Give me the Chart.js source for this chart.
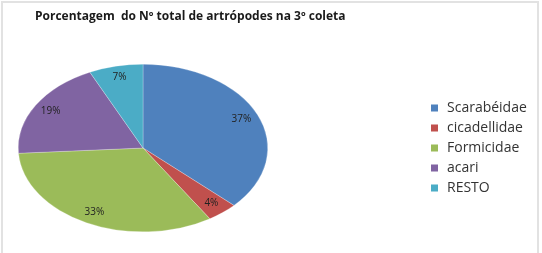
<!DOCTYPE html>
<html>
<head>
<meta charset="utf-8">
<script src="https://cdn.jsdelivr.net/npm/chart.js@4"></script>
<style>
    html, body { margin: 0; padding: 0; background: #fff; }
    #wrap { position: relative; width: 542px; height: 253px; }
    #frame { position: absolute; left: 1px; top: 1px; width: 538px; height: 260px; border: 2px solid #e2e2e2; border-bottom: none; box-sizing: border-box; }
    canvas { position: absolute; left: 0; top: 0; }
</style>
</head>
<body>
<div id="wrap">
    <div id="frame"></div>
    <canvas id="Pie-Chart" width="542" height="253"></canvas>
</div>
<script>
// values
var labels = ['Scarabéidae', 'cicadellidae', 'Formicidae', 'acari', 'RESTO'];
var percents = [37, 4, 33, 19, 7];
var colors = ['#4f81bd', '#c0504d', '#9bbb59', '#8064a2', '#4bacc6'];
var title = 'Porcentagem  do Nº total de artrópodes na 3º coleta';

// pie is drawn as a circle and squashed into an ellipse
var centerY = 148;
var squash = 84 / 125;

var ellipsePlugin = {
    id: 'ellipse',
    beforeDatasetsDraw: function (chart) {
        var arc = chart.getDatasetMeta(0).data[0];
        var ctx = chart.ctx;
        ctx.save();
        ctx.translate(arc.x, centerY);
        ctx.scale(1, squash);
        ctx.translate(-arc.x, -arc.y);
    },
    afterDatasetsDraw: function (chart) {
        chart.ctx.restore();
    },
    afterDraw: function (chart) {
        var ctx = chart.ctx;
        ctx.save();

        // title
        ctx.fillStyle = '#1a1a1a';
        ctx.font = 'bold 12px "Open Sans", sans-serif';
        ctx.textBaseline = 'middle';
        ctx.textAlign = 'left';
        ctx.fillText(title, 35, 17);

        // percent labels
        ctx.font = '10px "Open Sans", sans-serif';
        ctx.fillStyle = '#222';
        ctx.textAlign = 'center';
        chart.getDatasetMeta(0).data.forEach(function (arc, i) {
            var mid = (arc.startAngle + arc.endAngle) / 2;
            var r = arc.outerRadius * 0.86;
            var x = arc.x + Math.cos(mid) * r;
            var y = centerY + Math.sin(mid) * r * squash;
            ctx.fillText(percents[i] + '%', x, y);
        });

        // legend
        ctx.textAlign = 'left';
        ctx.font = '14px "Open Sans", sans-serif';
        labels.forEach(function (lbl, i) {
            var y = 108 + i * 20;
            ctx.fillStyle = colors[i];
            ctx.fillRect(431, y - 3.5, 7, 7);
            ctx.fillStyle = '#333';
            ctx.fillText(lbl, 447, y + 0.5);
        });
        ctx.restore();
    }
};

window.onload = function () {
    var ctx = document.getElementById('Pie-Chart').getContext('2d');

    var pie = new Chart(ctx, {
        type: 'pie',
        data: {
            labels: labels,
            datasets: [{
                data: percents,
                backgroundColor: colors,
                borderColor: 'rgba(255,255,255,0.6)',
                borderWidth: 0.5
            }]
        },
        options: {
            responsive: false,
            animation: false,
            layout: {
                padding: { left: 18, right: 274, top: 0, bottom: 0 }
            },
            plugins: {
                legend: { display: false },
                tooltip: { enabled: false }
            }
        },
        plugins: [ellipsePlugin]
    });
};
</script>
</body>
</html>
